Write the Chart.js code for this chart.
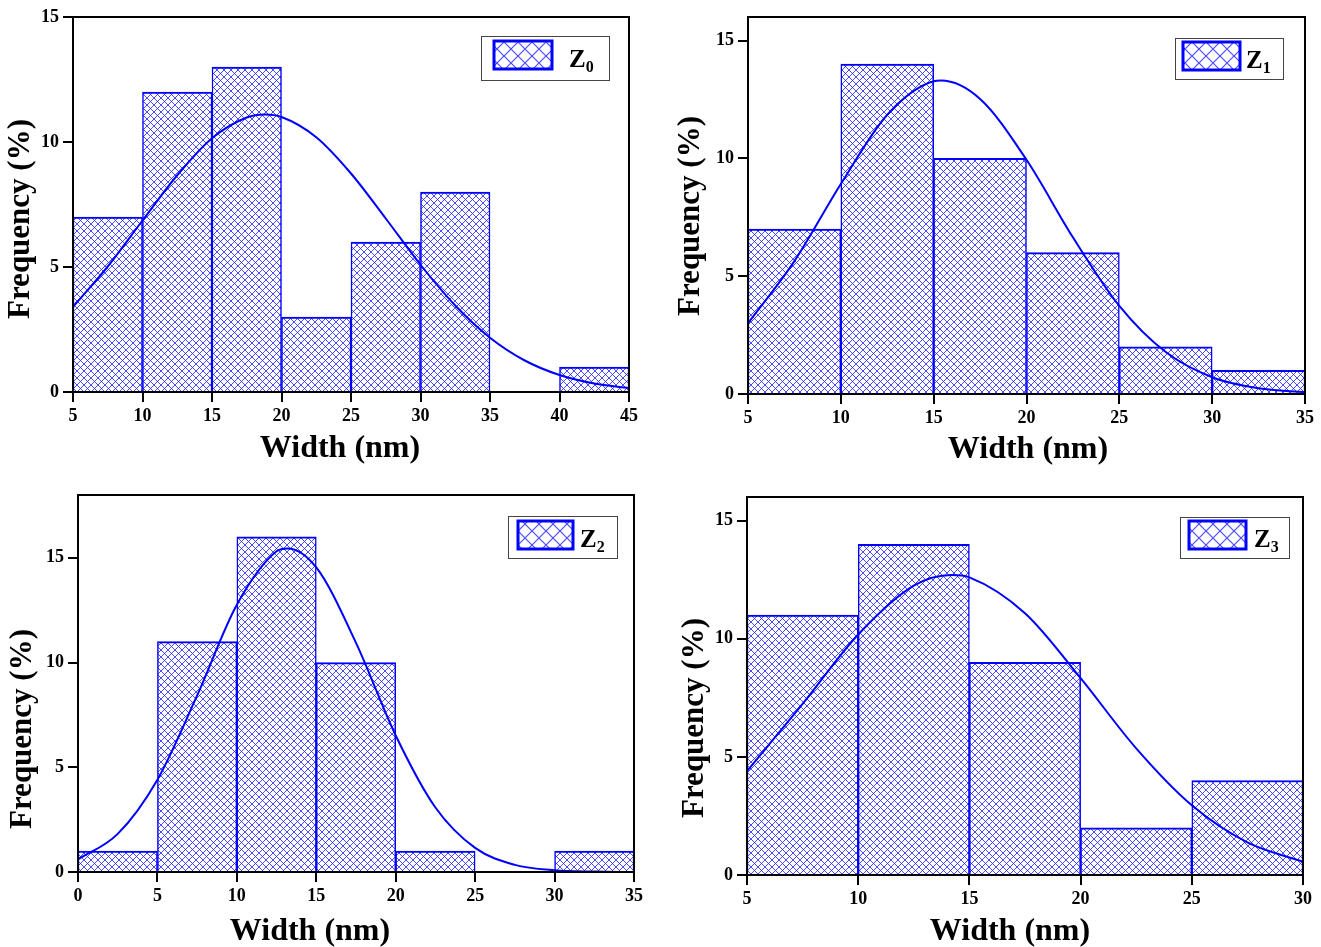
<!DOCTYPE html>
<html>
<head>
<meta charset="utf-8">
<script src="https://cdn.jsdelivr.net/npm/chart.js@4.4.0/dist/chart.umd.min.js"></script>
<style>
  body { margin: 0; background: #fff; }
  .panel { position: absolute; }
</style>
</head>
<body>
<div class="panel" style="left:0;top:0"><canvas id="c0" width="660" height="470"></canvas></div>
<div class="panel" style="left:660px;top:0"><canvas id="c1" width="661" height="470"></canvas></div>
<div class="panel" style="left:0;top:475px"><canvas id="c2" width="660" height="472"></canvas></div>
<div class="panel" style="left:660px;top:475px"><canvas id="c3" width="661" height="472"></canvas></div>
<script>
// histogram bins (centres) and frequencies
const seriesNames = ['Z0', 'Z1', 'Z2', 'Z3'];

const binCenters0 = [7.5, 12.5, 17.5, 22.5, 27.5, 32.5, 37.5, 42.5];
const freq0 = [7, 12, 13, 3, 6, 8, null, 1];
const binCenters1 = [7.5, 12.5, 17.5, 22.5, 27.5, 32.5];
const freq1 = [7, 14, 10, 6, 2, 1];
const binCenters2 = [2.5, 7.5, 12.5, 17.5, 22.5, 27.5, 32.5];
const freq2 = [1, 11, 16, 10, 1, null, 1];
const binCenters3 = [7.5, 12.5, 17.5, 22.5, 27.5];
const freq3 = [11, 14, 9, 2, 4];

// fitted curves
const fitX0 = [5, 7.5, 10, 12.5, 15, 17.5, 18.8, 20, 22.5, 25, 27.5, 30, 32.5, 35, 37.5, 40, 42.5, 45];
const fitY0 = [3.4, 5.02, 6.86, 8.67, 10.15, 10.98, 11.1, 11.0, 10.19, 8.74, 6.94, 5.09, 3.46, 2.17, 1.26, 0.68, 0.34, 0.16];
const fitX1 = [5, 7.5, 10, 12.5, 15, 15.4, 17.5, 20, 22.5, 25, 27.5, 30, 32.5, 35];
const fitY1 = [3.0, 5.64, 8.91, 11.85, 13.27, 13.3, 12.52, 9.94, 6.65, 3.74, 1.78, 0.71, 0.24, 0.07];
const fitX2 = [0, 2.5, 5, 7.5, 10, 12.5, 13.2, 15, 17.5, 20, 22.5, 25, 27.5, 30, 32.5, 35];
const fitY2 = [0.6, 1.82, 4.41, 8.43, 12.76, 15.31, 15.45, 14.54, 10.94, 6.52, 3.08, 1.15, 0.34, 0.08, 0.02, 0.0];
const fitX3 = [5, 7.5, 10, 12.5, 14.2, 15, 17.5, 20, 22.5, 25, 27.5, 30];
const fitY3 = [4.4, 7.24, 10.18, 12.25, 12.7, 12.6, 11.08, 8.33, 5.36, 2.95, 1.38, 0.56];

// axis ranges
const xMin = [5, 5, 0, 5];
const xMax = [45, 35, 35, 30];
const yMax = [15, 16, 18, 16];

const xTitle = 'Width (nm)';
const yTitle = 'Frequency (%)';

Chart.defaults.font.family = '"Liberation Serif", "Times New Roman", serif';
Chart.defaults.font.weight = 'bold';
Chart.defaults.color = '#000';

function hatch(size, lw) {
  const c = document.createElement('canvas');
  c.width = c.height = size;
  const g = c.getContext('2d');
  g.fillStyle = '#fff';
  g.fillRect(0, 0, size, size);
  g.strokeStyle = 'rgba(30,30,255,0.8)';
  g.lineWidth = lw;
  g.beginPath();
  g.moveTo(-1, -1); g.lineTo(size + 1, size + 1);
  g.moveTo(size + 1, -1); g.lineTo(-1, size + 1);
  g.stroke();
  return g.createPattern(c, 'repeat');
}
const smallHatch = hatch(7, 1);
const bigHatch = hatch(14, 1.2);

// black frame round the plot area
const frame = {
  id: 'frame',
  afterDatasetsDraw(chart) {
    const a = chart.chartArea, ctx = chart.ctx;
    ctx.save();
    ctx.strokeStyle = '#000';
    ctx.lineWidth = 2;
    ctx.strokeRect(a.left, a.top, a.right - a.left, a.bottom - a.top);
    ctx.restore();
  }
};

// axis titles, placed where the figure has them (not always centred on the plot)
const axisTitles = {
  id: 'axisTitles',
  afterDraw(chart, args, o) {
    const ctx = chart.ctx;
    ctx.save();
    ctx.fillStyle = '#000';
    ctx.font = 'bold 32px "Liberation Serif"';
    ctx.textAlign = 'center';
    ctx.textBaseline = 'middle';
    ctx.fillText(xTitle, o.xcx, o.xcy);
    ctx.font = 'bold 31px "Liberation Serif"';
    ctx.translate(o.ycx, o.ycy);
    ctx.rotate(-Math.PI / 2);
    ctx.fillText(yTitle, 0, 0);
    ctx.restore();
  }
};

// boxed legend with hatched swatch and subscript label
const boxLegend = {
  id: 'boxLegend',
  afterDraw(chart, args, o) {
    const ctx = chart.ctx;
    ctx.save();
    ctx.fillStyle = '#fff';
    ctx.fillRect(o.x, o.y, o.w, o.h);
    ctx.strokeStyle = '#444';
    ctx.lineWidth = 1;
    ctx.strokeRect(o.x + 0.5, o.y + 0.5, o.w, o.h);
    ctx.fillStyle = bigHatch;
    ctx.fillRect(o.sx, o.sy, o.sw, o.sh);
    ctx.strokeStyle = '#0000ff';
    ctx.lineWidth = 3;
    ctx.strokeRect(o.sx, o.sy, o.sw, o.sh);
    ctx.fillStyle = '#000';
    ctx.textBaseline = 'alphabetic';
    ctx.font = 'bold 25px "Liberation Serif"';
    const base = o.sy + 26;
    ctx.fillText(o.label[0], o.tx, base);
    const w = ctx.measureText(o.label[0]).width;
    ctx.font = 'bold 16px "Liberation Serif"';
    ctx.fillText(o.label.slice(1), o.tx + w, base + 5);
    ctx.restore();
  }
};

// panel layout: canvas origin, plot box edges, title centres, legend box (page coords)
const panels = [
  { ox: 0, oy: 0, w: 660, h: 470, l: 73, t: 17, r: 629, b: 392,
    xt: [340, 449], yt: [21, 219],
    lg: { x: 481, y: 36, w: 128, h: 44, sx: 494, sy: 41, sw: 58, sh: 28, tx: 569 } },
  { ox: 660, oy: 0, w: 661, h: 470, l: 748, t: 17, r: 1305, b: 394,
    xt: [1028, 450], yt: [691, 216],
    lg: { x: 1175, y: 38, w: 108, h: 41, sx: 1183, sy: 42, sw: 57, sh: 28, tx: 1246 } },
  { ox: 0, oy: 475, w: 660, h: 472, l: 78, t: 495, r: 634, b: 872,
    xt: [310, 932], yt: [23, 729],
    lg: { x: 508, y: 516, w: 109, h: 42, sx: 518, sy: 521, sw: 55, sh: 28, tx: 580 } },
  { ox: 660, oy: 475, w: 661, h: 472, l: 747, t: 497, r: 1303, b: 875,
    xt: [1010, 932], yt: [695, 718],
    lg: { x: 1180, y: 517, w: 109, h: 41, sx: 1189, sy: 521, sw: 57, sh: 28, tx: 1254 } }
];

const bins = [binCenters0, binCenters1, binCenters2, binCenters3];
const freqs = [freq0, freq1, freq2, freq3];
const fitXs = [fitX0, fitX1, fitX2, fitX3];
const fitYs = [fitY0, fitY1, fitY2, fitY3];

panels.forEach((p, i) => {
  const lg = p.lg;
  new Chart(document.getElementById('c' + i), {
    type: 'bar',
    data: {
      datasets: [
        {
          type: 'line',
          label: 'fit',
          data: fitXs[i].map((x, k) => ({ x: x, y: fitYs[i][k] })),
          borderColor: '#0000ff',
          borderWidth: 2,
          pointRadius: 0,
          cubicInterpolationMode: 'monotone',
          fill: false,
          order: 0
        },
        {
          label: seriesNames[i],
          data: bins[i].map((x, k) => ({ x: x, y: freqs[i][k] })),
          backgroundColor: smallHatch,
          borderColor: '#0000ff',
          borderWidth: { top: 2, left: 1.5, right: 1.5 },
          borderSkipped: 'start',
          barPercentage: 1,
          categoryPercentage: 1,
          order: 1
        }
      ]
    },
    options: {
      responsive: false,
      animation: false,
      layout: { padding: { left: 0, top: p.t - p.oy, right: p.ox + p.w - p.r, bottom: 0 } },
      plugins: {
        legend: { display: false },
        tooltip: { enabled: false },
        axisTitles: {
          xcx: p.xt[0] - p.ox, xcy: p.xt[1] - p.oy,
          ycx: p.yt[0] - p.ox, ycy: p.yt[1] - p.oy
        },
        boxLegend: {
          x: lg.x - p.ox, y: lg.y - p.oy, w: lg.w, h: lg.h,
          sx: lg.sx - p.ox, sy: lg.sy - p.oy, sw: lg.sw, sh: lg.sh,
          tx: lg.tx - p.ox, label: seriesNames[i]
        }
      },
      scales: {
        x: {
          type: 'linear',
          min: xMin[i],
          max: xMax[i],
          offset: false,
          grid: { display: true, offset: false, drawOnChartArea: false, drawTicks: true,
                  tickLength: 10, color: '#000', lineWidth: 2 },
          border: { display: false },
          ticks: { stepSize: 5, padding: 4, font: { size: 18, weight: 'bold' }, maxRotation: 0 },
          afterFit: s => { s.height = p.oy + p.h - p.b; }
        },
        y: {
          min: 0,
          max: yMax[i],
          grid: { display: true, drawOnChartArea: false, drawTicks: true,
                  tickLength: 10, color: '#000', lineWidth: 2 },
          border: { display: false },
          ticks: { stepSize: 5, includeBounds: false, padding: 4, font: { size: 18, weight: 'bold' } },
          afterFit: s => { s.width = p.l - p.ox; }
        }
      }
    },
    plugins: [frame, axisTitles, boxLegend]
  });
});
</script>
</body>
</html>
